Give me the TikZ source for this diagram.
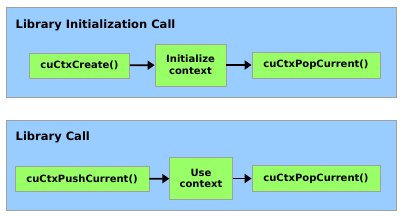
\documentclass[tikz,border=0pt]{standalone}
\usepackage{fontspec}
\setmainfont{DejaVu Sans}
\usetikzlibrary{arrows.meta}
\definecolor{panelblue}{HTML}{99CCFF}
\definecolor{boxgreen}{HTML}{99FF66}
\definecolor{edgegray}{HTML}{A0A0A0}
\tikzset{
  panel/.style={draw=edgegray, fill=panelblue, line width=0.8pt},
  stepbox/.style={draw=edgegray, fill=boxgreen, line width=0.8pt, align=center,
    font=\fontsize{10}{11.5}\selectfont\bfseries, inner sep=0pt},
  paneltitle/.style={anchor=west, font=\fontsize{11.5}{13}\selectfont\bfseries, inner sep=0pt},
  flow/.style={-{Triangle[length=7pt,width=9pt]}, line width=1.8pt, black}
}
\begin{document}
\begin{tikzpicture}[x=1pt,y=-1pt]
\useasboundingbox (0,0) rectangle (404,217);
% top panel
\node[panel, minimum width=390pt, minimum height=90pt, anchor=north west] (p1) at (5.5,6.5) {};
\node[paneltitle] (t1) at (15.5,25) {Library Initialization Call};
\node[stepbox, minimum width=100pt, minimum height=25pt] (a1) at (79.5,65.5) {cuCtxCreate()};
\node[stepbox, minimum width=71pt, minimum height=42pt] (a2) at (190.5,65) {Initialize\\context};
\node[stepbox, minimum width=128pt, minimum height=26pt] (a3) at (316,65) {cuCtxPopCurrent()};
\draw[flow] (a1) -- (a2);
\draw[flow] (a2) -- (a3);
% bottom panel
\node[panel, minimum width=390pt, minimum height=90pt, anchor=north west] (p2) at (5.5,119.5) {};
\node[paneltitle] (t2) at (15.5,137) {Library Call};
\node[stepbox, minimum width=134pt, minimum height=24.5pt] (b1) at (82,179) {cuCtxPushCurrent()};
\node[stepbox, minimum width=62.5pt, minimum height=41.5pt] (b2) at (201,178.5) {Use\\context};
\node[stepbox, minimum width=128pt, minimum height=25.5pt] (b3) at (316,178.5) {cuCtxPopCurrent()};
\draw[flow] (b1) -- (b2);
\draw[flow] (b2) -- (b3);
\end{tikzpicture}
\end{document}
